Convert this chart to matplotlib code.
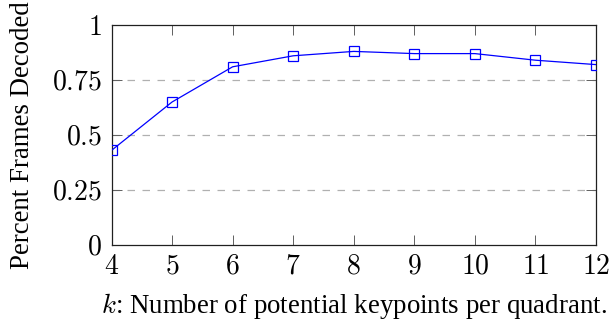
import numpy as np
import matplotlib.pyplot as plt

# k values and fraction of frames decoded
k = [4, 5, 6, 7, 8, 9, 10, 11, 12]
decoded = [0.43, 0.65, 0.81, 0.86, 0.88, 0.87, 0.87, 0.84, 0.82]
yticks = [0, 0.25, 0.5, 0.75, 1]
ytick_labels = ['$0$', '$0.25$', '$0.5$', '$0.75$', '$1$']

plt.rcParams['mathtext.fontset'] = 'cm'
plt.rcParams['font.family'] = ['Liberation Serif', 'DejaVu Serif']

fig = plt.figure(figsize=(6.12, 3.22), dpi=100)
ax = fig.add_axes([111.5/612, 77/322, 484.5/612, 220/322])

ax.plot(k, decoded, color='blue', linewidth=0.9, marker='s', markersize=7.5,
        markerfacecolor='none', markeredgecolor='blue', markeredgewidth=0.9, zorder=3)

ax.set_xlim(4, 12)
ax.set_ylim(0, 1)
ax.set_xticks(k)
ax.set_xticklabels(['$%d$' % v for v in k])
ax.set_yticks(yticks)
ax.set_yticklabels(ytick_labels)

for yv in [0.25, 0.5, 0.75]:
    ax.axhline(yv, color='#b0b0b0', linewidth=0.9, linestyle=(0, (6, 6)), zorder=1)

ax.tick_params(direction='in', length=7, width=0.7, color='#606060',
               top=True, right=True, labelsize=20, pad=7)
for s in ax.spines.values():
    s.set_linewidth(0.9)
    s.set_color('#202020')

ax.set_xlabel('$k$: Number of potential keypoints per quadrant.', fontsize=19.4, labelpad=8)
ax.set_ylabel('Percent Frames Decoded', fontsize=19.4, labelpad=12)

fig.savefig('out.png', dpi=100)
